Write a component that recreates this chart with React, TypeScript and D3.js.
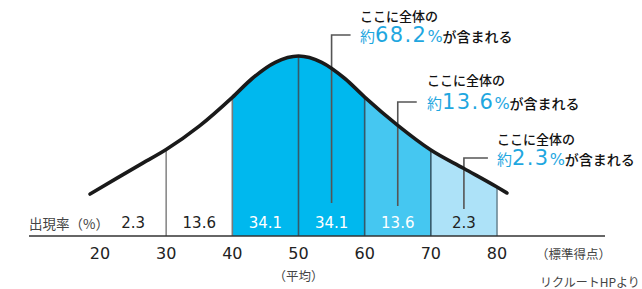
import React from 'react';
import * as d3 from 'd3';

// bell curve: score -> relative height (peak = 100)
const curveScores = [18.5, 22.5, 26, 30, 35, 40, 43, 46.5, 50, 53.5, 57, 60, 65, 70, 75, 80, 81.5];
const curveHeights = [23.3, 32, 39.5, 48, 61, 77, 87.5, 96.5, 100, 96.5, 87.5, 77.2, 61.5, 47.8, 37.5, 27.2, 23.9];

const tickScores = [20, 30, 40, 50, 60, 70, 80];
const bandStarts = [20, 30, 40, 50, 60, 70];
const bandEnds = [30, 40, 50, 60, 70, 80];
const bandRates = ['2.3', '13.6', '34.1', '34.1', '13.6', '2.3'];
const dividerScores = [30, 40, 50, 60, 70, 80];

const shadeStarts = [40, 60, 70];
const shadeEnds = [60, 70, 80];

const noteScores = [55, 65, 75];
const notePercents = ['68.2', '13.6', '2.3'];

const W = 642;
const H = 289;
const baseY = 236;
const peakY = 56;

const shadeColors = ['#00b8ee', '#45c7f1', '#ade2f8'];
const rateColors = ['#222', '#222', '#fff', '#fff', '#fff', '#222'];
const dividerColors = ['#8a8a8a', '#7a7a7a', '#35596a', '#35596a', '#35596a', '#6d8a96'];
const blue = '#1fa7df';
const jp = '"Noto Sans CJK JP", "Noto Sans", sans-serif';
const num = '"DejaVu Sans", "Noto Sans", sans-serif';

// leader line geometry (layout only)
const noteTop = [35, 102, 158];
const noteBottom = [203, 206, 209];
const noteArm = [19, 19, 24];
const noteTextX = [360, 427, 497];
const noteHeadY = [15, 79, 138];

const App = () => {
  const x = d3.scaleLinear().domain([20, 80]).range([100, 497]);
  const y = d3.scaleLinear().domain([0, 100]).range([baseY, peakY]);

  const pts: [number, number][] = curveScores.map((s, i) => [s, curveHeights[i]]);

  const line = d3
    .line<[number, number]>()
    .x((d) => x(d[0]))
    .y((d) => y(d[1]))
    .curve(d3.curveMonotoneX);

  const area = d3
    .area<[number, number]>()
    .x((d) => x(d[0]))
    .y0(baseY)
    .y1((d) => y(d[1]))
    .curve(d3.curveMonotoneX);

  return (
    <div style={{ position: 'absolute', left: 0, top: 0 }}>
      <svg width={W} height={H} style={{ display: 'block', background: '#fff' }}>
        <defs>
          <clipPath id="under-curve">
            <path d={area(pts) || ''} />
          </clipPath>
        </defs>

        {/* shaded bands */}
        <g clipPath="url(#under-curve)">
          {shadeStarts.map((s, i) => (
            <rect
              key={'shade' + i}
              x={x(s)}
              y={0}
              width={x(shadeEnds[i]) - x(s)}
              height={baseY}
              fill={shadeColors[i]}
            />
          ))}
          {dividerScores.map((s, i) => (
            <line
              key={'div' + i}
              x1={x(s)}
              x2={x(s)}
              y1={0}
              y2={baseY}
              stroke={dividerColors[i]}
              strokeWidth={1.6}
            />
          ))}
        </g>

        {/* leader lines */}
        {noteScores.map((s, i) => (
          <path
            key={'lead' + i}
            d={`M${x(s)},${noteBottom[i]}V${noteTop[i]}H${x(s) + noteArm[i]}`}
            fill="none"
            stroke="#555"
            strokeWidth={1.6}
          />
        ))}

        {/* curve */}
        <path
          d={line(pts) || ''}
          fill="none"
          stroke="#1a1a1a"
          strokeWidth={3.6}
          strokeLinecap="round"
        />

        {/* baseline */}
        <line x1={29} x2={605} y1={baseY} y2={baseY} stroke="#333" strokeWidth={1.5} />

        {/* rate row */}
        <text x={29} y={223} dominantBaseline="central" fontFamily={jp} fontSize={13.5} fill="#444">
          出現率（%）
        </text>
        {bandStarts.map((s, i) => (
          <text
            key={'rate' + i}
            x={x((s + bandEnds[i]) / 2)}
            y={223}
            textAnchor="middle"
            dominantBaseline="central"
            fontFamily={num}
            fontSize={15}
            fill={rateColors[i]}
          >
            {bandRates[i]}
          </text>
        ))}

        {/* x ticks */}
        {tickScores.map((s) => (
          <text
            key={'tick' + s}
            x={x(s)}
            y={253}
            textAnchor="middle"
            dominantBaseline="central"
            fontFamily={num}
            fontSize={16}
            fill="#222"
          >
            {s}
          </text>
        ))}
        <text x={x(50)} y={275} textAnchor="middle" dominantBaseline="central" fontFamily={jp} fontSize={12.5} fill="#444">
          （平均）
        </text>
        <text x={536} y={253} dominantBaseline="central" fontFamily={jp} fontSize={12.5} fill="#444">
          （標準得点）
        </text>
        <text x={540} y={281} dominantBaseline="central" fontFamily={jp} fontSize={12} fill="#444">
          リクルートHPより
        </text>

        {/* annotations */}
        {noteScores.map((s, i) => (
          <g key={'note' + i}>
            <text
              x={noteTextX[i]}
              y={noteHeadY[i]}
              dominantBaseline="central"
              fontFamily={jp}
              fontSize={13}
              fontWeight={500}
              fill="#111"
            >
              ここに全体の
            </text>
            <text x={noteTextX[i]} y={noteTop[i] + 7}>
              <tspan fontFamily={jp} fontSize={15} fill={blue}>
                約
              </tspan>
              <tspan fontFamily={num} fontSize={21} letterSpacing={1.4} fill={blue}>
                {notePercents[i]}
              </tspan>
              <tspan fontFamily={num} fontSize={16} fill={blue}>
                %
              </tspan>
              <tspan fontFamily={jp} fontSize={14} fontWeight={500} fill="#111">
                が含まれる
              </tspan>
            </text>
          </g>
        ))}
      </svg>
    </div>
  );
};

export default App;
